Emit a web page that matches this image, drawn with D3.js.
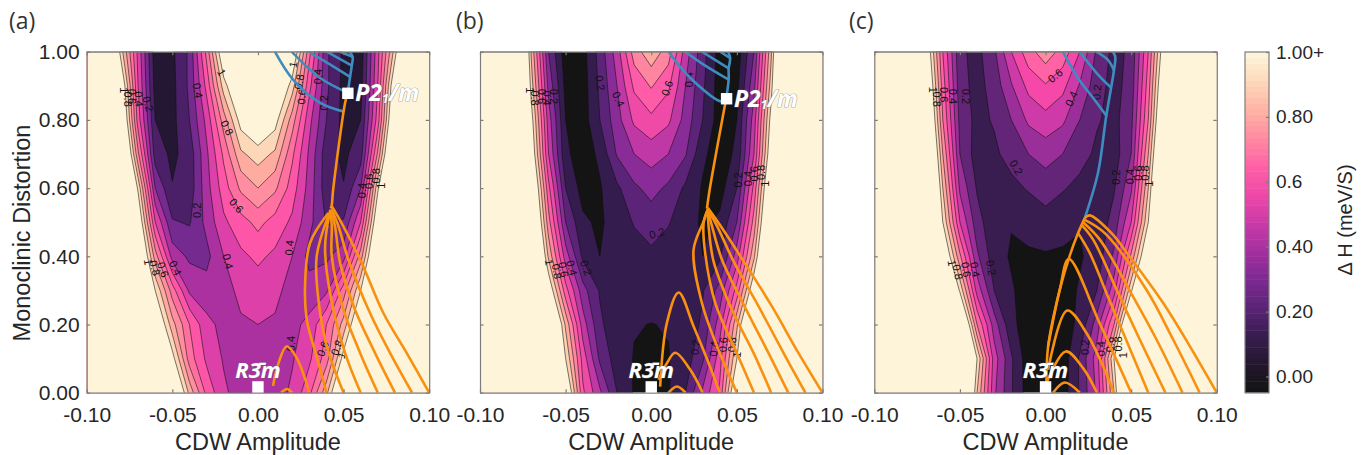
<!DOCTYPE html>
<html lang="en">
<head>
    <meta charset="UTF-8">
    <title>CDW contour maps</title>
    <style>
        html, body { margin: 0; padding: 0; background: #fff; }
        svg { display: block; }
        .axis text { font-family: "Liberation Sans", sans-serif; font-size: 21px; fill: #262626; }
        .axis path, .axis line { stroke: #7d7d7d; stroke-width: 1.2px; }
        .bar text { font-size: 19px; }
        .title { font-family: "Liberation Sans", sans-serif; font-size: 23.5px; fill: #262626; }
        .tag { font-family: "Open Sans", sans-serif; font-size: 23px; fill: #333; }
        .clabel { font-family: "Liberation Sans", sans-serif; font-size: 11px; fill: #111; text-anchor: middle; dominant-baseline: central; }
        .phase { font-family: "Open Sans", sans-serif; font-weight: 700; font-style: italic; fill: #fff; stroke: #666; stroke-width: 0.6px; paint-order: stroke; }
    </style>
</head>
<body>
<svg></svg>
<script src="https://cdnjs.cloudflare.com/ajax/libs/d3/7.8.5/d3.min.js"></script>
<script>
    // grid. maps are mirror symmetric in x so only x >= 0 is kept
    var gridCols = [0, 0.01, 0.02, 0.03, 0.04, 0.05, 0.06, 0.07, 0.08, 0.09, 0.10];
    var gridRows = [1.0, 0.9, 0.8, 0.7, 0.6, 0.5, 0.4, 0.3, 0.2, 0.1, 0.0];
    var levels = [0.1, 0.2, 0.3, 0.4, 0.5, 0.6, 0.7, 0.8, 0.9, 1.0];

    var gridA = [
        [1.40, 1.30, 1.15, 0.63, 0.22, 0.08, 0.04, 0.47, 0.95, 1.60, 2.40],
        [1.30, 1.20, 0.95, 0.53, 0.22, 0.07, 0.06, 0.50, 1.15, 1.75, 2.50],
        [1.15, 1.05, 0.75, 0.43, 0.20, 0.07, 0.10, 0.55, 1.25, 1.90, 2.70],
        [0.95, 0.88, 0.62, 0.38, 0.14, 0.08, 0.15, 0.72, 1.40, 2.00, 2.80],
        [0.80, 0.72, 0.55, 0.36, 0.14, 0.105, 0.30, 0.98, 1.50, 2.10, 2.90],
        [0.63, 0.56, 0.48, 0.33, 0.19, 0.21, 0.50, 1.15, 1.70, 2.30, 3.00],
        [0.52, 0.48, 0.40, 0.27, 0.28, 0.36, 0.75, 1.30, 1.90, 2.50, 3.20],
        [0.45, 0.42, 0.37, 0.34, 0.38, 0.65, 1.00, 1.60, 2.20, 2.80, 3.40],
        [0.40, 0.39, 0.37, 0.43, 0.60, 0.84, 1.20, 1.90, 2.50, 3.10, 3.70],
        [0.36, 0.35, 0.39, 0.48, 0.65, 1.05, 1.50, 2.10, 2.70, 3.30, 3.90],
        [0.34, 0.35, 0.42, 0.57, 0.87, 1.30, 1.80, 2.30, 2.90, 3.50, 4.10]
    ];
    var gridB = [
        [0.87, 0.75, 0.45, 0.24, 0.06, 0.04, 0.30, 0.88, 1.70, 2.50, 3.30],
        [0.71, 0.62, 0.40, 0.22, 0.05, 0.07, 0.37, 0.95, 1.75, 2.55, 3.35],
        [0.575, 0.52, 0.36, 0.20, 0.05, 0.10, 0.45, 1.05, 1.80, 2.60, 3.40],
        [0.445, 0.40, 0.31, 0.12, 0.05, 0.12, 0.50, 1.12, 1.90, 2.70, 3.50],
        [0.335, 0.28, 0.18, 0.09, 0.06, 0.20, 0.63, 1.25, 2.00, 2.80, 3.60],
        [0.245, 0.205, 0.16, 0.08, 0.12, 0.30, 0.74, 1.35, 2.10, 2.90, 3.70],
        [0.18, 0.17, 0.145, 0.10, 0.18, 0.45, 0.88, 1.50, 2.20, 3.00, 3.80],
        [0.14, 0.14, 0.15, 0.19, 0.34, 0.64, 1.12, 1.80, 2.50, 3.20, 4.00],
        [0.098, 0.105, 0.13, 0.22, 0.45, 0.88, 1.40, 2.00, 2.70, 3.40, 4.10],
        [0.07, 0.095, 0.15, 0.28, 0.56, 1.00, 1.60, 2.30, 3.00, 3.70, 4.40],
        [0.06, 0.09, 0.20, 0.42, 0.62, 1.20, 1.90, 2.60, 3.30, 4.00, 4.70]
    ];
    var gridC = [
        [0.76, 0.66, 0.50, 0.28, 0.17, 0.22, 0.60, 1.15, 1.90, 2.70, 3.50],
        [0.59, 0.53, 0.39, 0.24, 0.165, 0.24, 0.65, 1.25, 2.00, 2.80, 3.60],
        [0.465, 0.42, 0.30, 0.21, 0.17, 0.27, 0.70, 1.35, 2.10, 2.90, 3.70],
        [0.34, 0.30, 0.24, 0.18, 0.15, 0.30, 0.80, 1.45, 2.20, 3.00, 3.80],
        [0.245, 0.21, 0.17, 0.14, 0.19, 0.38, 0.90, 1.55, 2.30, 3.10, 3.90],
        [0.16, 0.125, 0.105, 0.13, 0.24, 0.50, 1.00, 1.65, 2.40, 3.20, 4.00],
        [0.09, 0.09, 0.09, 0.14, 0.32, 0.72, 1.20, 1.85, 2.60, 3.40, 4.20],
        [0.06, 0.06, 0.11, 0.20, 0.46, 0.98, 1.50, 2.10, 2.80, 3.60, 4.40],
        [0.04, 0.05, 0.125, 0.35, 0.70, 1.35, 1.90, 2.50, 3.20, 4.00, 4.80],
        [0.03, 0.04, 0.215, 0.45, 1.00, 1.60, 2.20, 2.90, 3.60, 4.40, 5.20],
        [0.02, 0.05, 0.21, 0.42, 0.90, 1.60, 2.30, 3.00, 3.70, 4.50, 5.30]
    ];

    // band colours, lowest band first, cream is everything above 1
    var bandsA = ["#241733", "#4b2068", "#752a8f", "#ab30a0", "#dd40a8", "#fd56a8", "#ff70a0", "#ff8fa0", "#ffaca0", "#fdd8b8", "#fdf4da"];
    var bandsB = ["#141414", "#351c4e", "#5c2478", "#8a2c98", "#c038a5", "#f04aa8", "#fe5ca8", "#ff85a0", "#ffa8a0", "#fdd0b0", "#fdf4da"];
    var bandsC = ["#141414", "#391d50", "#632578", "#9a2f9a", "#ce3aa8", "#f548a8", "#ff62a5", "#ff8ba0", "#ffaea0", "#fdd8b8", "#fdf4da"];
    var barColors = ["#141414", "#25172f", "#3a1d52", "#5c2478", "#7f2a92", "#a530a0", "#cb3aa8", "#ef48a8", "#fe60a6", "#ff8aa0", "#ffb2a4", "#fed6b8", "#fdf4da"];
    var barStripes = 60;

    var xTicks = [-0.10, -0.05, 0, 0.05, 0.10];
    var xTickLabels = ["-0.10", "-0.05", "0.00", "0.05", "0.10"];
    var yTicks = [0, 0.2, 0.4, 0.6, 0.8, 1.0];
    var yTickLabels = ["0.00", "0.20", "0.40", "0.60", "0.80", "1.00"];
    var barTicks = [0, 0.2, 0.4, 0.6, 0.8, 1.0];
    var barTickLabels = ["0.00", "0.20", "0.40", "0.6", "0.80", "1.00+"];

    // orange paths, each runs from the fork or start down to y = 0
    var orangeA = [
        [[0.0135, 0], [0.017, 0.011], [0.02, 0]],
        [[0.0088, 0.02], [0.0117, 0.082], [0.0168, 0.136], [0.0226, 0.102], [0.03, 0]],
        [[0.0411, 0.527], [0.0304, 0.439], [0.0275, 0.312], [0.0285, 0.214], [0.0343, 0.106], [0.04, 0]],
        [[0.0417, 0.527], [0.0343, 0.40], [0.0353, 0.273], [0.0402, 0.136], [0.05, 0]],
        [[0.0421, 0.532], [0.0392, 0.429], [0.0421, 0.292], [0.0509, 0.116], [0.06, 0]],
        [[0.0421, 0.537], [0.0431, 0.488], [0.0431, 0.40], [0.05, 0.243], [0.0597, 0.116], [0.07, 0]],
        [[0.0425, 0.537], [0.045, 0.488], [0.048, 0.38], [0.0567, 0.243], [0.0684, 0.116], [0.08, 0]],
        [[0.0431, 0.537], [0.047, 0.488], [0.0528, 0.39], [0.0655, 0.233], [0.0772, 0.116], [0.09, 0]],
        [[0.0431, 0.547], [0.0499, 0.488], [0.0606, 0.38], [0.0733, 0.233], [0.0869, 0.116], [0.10, 0]],
        [[0.0425, 0.54], [0.0431, 0.55], [0.0439, 0.595], [0.0509, 0.85], [0.0524, 0.879]]
    ];
    var orangeB = [
        [[0.0101, 0], [0.015, 0.018], [0.02, 0]],
        [[0.0043, 0.038], [0.0092, 0.087], [0.014, 0.117], [0.0228, 0.067], [0.03, 0]],
        [[0.0052, 0.018], [0.0091, 0.204], [0.016, 0.294], [0.0247, 0.195], [0.0335, 0.087], [0.04, 0]],
        [[0.033, 0.537], [0.0306, 0.503], [0.0247, 0.419], [0.0296, 0.263], [0.0384, 0.136], [0.05, 0]],
        [[0.033, 0.537], [0.0306, 0.498], [0.0315, 0.409], [0.0374, 0.263], [0.05, 0.116], [0.06, 0]],
        [[0.033, 0.537], [0.0335, 0.488], [0.0364, 0.385], [0.0471, 0.243], [0.0598, 0.116], [0.07, 0]],
        [[0.033, 0.537], [0.0355, 0.488], [0.0413, 0.39], [0.055, 0.248], [0.0685, 0.116], [0.08, 0]],
        [[0.033, 0.537], [0.0385, 0.488], [0.0481, 0.385], [0.0627, 0.253], [0.0773, 0.116], [0.09, 0]],
        [[0.033, 0.542], [0.0413, 0.483], [0.0559, 0.37], [0.0705, 0.253], [0.086, 0.116], [0.10, 0]],
        [[0.0325, 0.54], [0.0341, 0.595], [0.0438, 0.864]]
    ];
    var orangeC = [
        [[0.0044, 0], [0.0112, 0.03], [0.02, 0]],
        [[0.0009, 0.033], [0.0118, 0.121], [0.0219, 0.072], [0.03, 0]],
        [[0.0015, 0.067], [0.0126, 0.241], [0.0239, 0.175], [0.04, 0]],
        [[0.0015, 0.136], [0.0083, 0.302], [0.0136, 0.392], [0.0316, 0.204], [0.05, 0]],
        [[0.019, 0.468], [0.0258, 0.41], [0.0356, 0.292], [0.047, 0.156], [0.06, 0]],
        [[0.0209, 0.493], [0.0278, 0.449], [0.0424, 0.292], [0.055, 0.156], [0.07, 0]],
        [[0.0219, 0.5], [0.0317, 0.449], [0.0511, 0.282], [0.0648, 0.156], [0.08, 0]],
        [[0.0229, 0.507], [0.0346, 0.468], [0.0589, 0.302], [0.0745, 0.156], [0.09, 0]],
        [[0.0229, 0.512], [0.0258, 0.52], [0.0385, 0.468], [0.049, 0.40], [0.0687, 0.263], [0.0843, 0.136], [0.10, 0]],
        [[0.0005, 0.02], [0.0015, 0.136], [0.0083, 0.302], [0.014, 0.40], [0.019, 0.468], [0.0229, 0.512]]
    ];

    var blueA = [
        [[0.0099, 1], [0.0205, 0.918], [0.0363, 0.85], [0.0497, 0.825]],
        [[0.0197, 1], [0.0363, 0.923], [0.0526, 0.879]],
        [[0.0295, 1], [0.0439, 0.957], [0.0538, 0.926]],
        [[0.0402, 1], [0.0548, 0.959]],
        [[0.048, 1], [0.0553, 0.985]],
        [[0.0524, 0.879], [0.0538, 0.926], [0.0548, 0.959], [0.0553, 0.985], [0.0535, 1]]
    ];
    var blueB = [
        [[0.0101, 1], [0.0228, 0.923], [0.0413, 0.854], [0.0438, 0.864]],
        [[0.0199, 1], [0.0306, 0.962], [0.0452, 0.918]],
        [[0.0296, 1], [0.0452, 0.951]],
        [[0.0403, 1], [0.0461, 0.981]],
        [[0.0438, 0.864], [0.0452, 0.918], [0.0452, 0.951], [0.0461, 0.981], [0.0448, 1]]
    ];
    var blueC = [
        [[0.0101, 1], [0.0189, 0.923], [0.0286, 0.859], [0.0358, 0.81]],
        [[0.0199, 1], [0.0306, 0.933], [0.0384, 0.894]],
        [[0.0296, 1], [0.0364, 0.976], [0.04, 0.945]],
        [[0.0229, 0.512], [0.0306, 0.644], [0.0354, 0.81], [0.0384, 0.898], [0.04, 0.947], [0.0407, 0.985], [0.0393, 1]]
    ];

    // contour labels: text, x, y, rotation
    var labelsA = [
        ["1", -0.0212, 0.939, 60], ["0.4", -0.035, 0.886, 80], ["0.8", -0.018, 0.777, 65], ["0.6", -0.0125, 0.549, 50],
        ["0.2", -0.0358, 0.535, -90], ["0.4", -0.0175, 0.385, 75], ["0.4", 0.0182, 0.425, -85], ["0.4", 0.0193, 0.144, -90],
        ["0.6", 0.0378, 0.129, -70], ["0.8", 0.046, 0.132, -70], ["1", 0.0488, 0.11, -70],
        ["1", 0.0205, 0.962, -80], ["0.8", 0.024, 0.912, -80], ["0.6", 0.0255, 0.868, -85], ["0.4", 0.0351, 0.927, -90], ["0.2", 0.0386, 0.85, -90],
        ["1", -0.0784, 0.887, 90], ["0.8", -0.0758, 0.861, 90], ["0.6", -0.0733, 0.869, 90], ["0.4", -0.0694, 0.861, 85], ["0.2", -0.0641, 0.847, 75],
        ["0.4", 0.0606, 0.593, -90], ["0.6", 0.0651, 0.62, -90], ["0.8", 0.069, 0.636, -90], ["1", 0.0719, 0.607, -90],
        ["1", -0.0641, 0.383, 80], ["0.8", -0.0602, 0.366, 75], ["0.6", -0.0554, 0.361, 70], ["0.4", -0.0481, 0.366, 65]
    ];
    var labelsB = [
        ["0.2", -0.0298, 0.908, 80], ["0.4", -0.0191, 0.861, 65], ["0.6", 0.0092, 0.893, -70], ["0.4", 0.0218, 0.918, -90], ["0.2", 0.0033, 0.468, -15],
        ["1", -0.0707, 0.887, 90], ["0.8", -0.0678, 0.864, 90], ["0.6", -0.0639, 0.869, 90], ["0.4", -0.0609, 0.864, 90], ["0.2", -0.0565, 0.869, 90],
        ["0.2", 0.0506, 0.624, -90], ["0.4", 0.0565, 0.628, -90], ["0.6", 0.0602, 0.642, -90], ["0.8", 0.0641, 0.646, -90], ["1", 0.0666, 0.613, -90],
        ["1", -0.0596, 0.382, 80], ["0.8", -0.0551, 0.356, 80], ["0.6", -0.0512, 0.361, 80], ["0.4", -0.0463, 0.366, 75], ["0.2", -0.038, 0.366, 70],
        ["0.2", 0.0257, 0.133, -85], ["0.4", 0.0364, 0.129, -85], ["0.6", 0.0419, 0.141, -85], ["0.8", 0.0471, 0.141, -85], ["1", 0.05, 0.112, -85]
    ];
    var labelsC = [
        ["0.6", 0.0056, 0.93, -40], ["0.4", 0.015, 0.862, -65], ["0.2", 0.03, 0.881, -85], ["0.2", -0.0171, 0.661, 60],
        ["1", -0.0658, 0.888, 90], ["0.8", -0.0633, 0.861, 90], ["0.6", -0.0594, 0.874, 90], ["0.4", -0.0541, 0.869, 90], ["0.2", -0.0463, 0.869, 90],
        ["0.2", 0.0413, 0.632, -90], ["0.4", 0.0491, 0.634, -90], ["0.6", 0.0539, 0.644, -90], ["0.8", 0.0582, 0.644, -90], ["1", 0.0607, 0.613, -90],
        ["1", -0.0547, 0.38, 80], ["0.8", -0.0512, 0.354, 80], ["0.6", -0.0463, 0.361, 80], ["0.4", -0.0411, 0.361, 80], ["0.2", -0.0317, 0.366, 80],
        ["0.2", 0.0228, 0.133, -90], ["0.4", 0.0321, 0.129, -90], ["0.6", 0.0374, 0.141, -90], ["0.8", 0.0423, 0.143, -90], ["1", 0.0452, 0.11, -90]
    ];

    var width = 1365;
    var height = 455;
    var plotTop = 51.7;
    var plotBottom = 392.7;
    var plotWidth = 342.5;

    var svg = d3.select("svg").attr("width", width).attr("height", height);

    var yScale = d3.scaleLinear().domain([0, 1]).range([plotBottom, plotTop]);

    // spread the half grid over both sides and repeat the edges so the fills run past the frame
    function fullGrid(grid) {
        var rows = grid.map(function (row) {
            var left = row.slice(1).reverse();
            var full = left.concat(row);
            return [full[0]].concat(full, [full[full.length - 1]]);
        });
        rows = [rows[0]].concat(rows, [rows[rows.length - 1]]);
        return rows;
    }

    function drawPanel(id, left, grid, bands, blue, orange, labels, showY) {
        var xScale = d3.scaleLinear().domain([-0.1, 0.1]).range([left, left + plotWidth]);
        var g = svg.append("g");

        g.append("clipPath").attr("id", "clip" + id).append("rect")
            .attr("x", left).attr("y", plotTop)
            .attr("width", plotWidth).attr("height", plotBottom - plotTop);

        var plot = g.append("g").attr("clip-path", "url(#clip" + id + ")");

        plot.append("rect")
            .attr("x", left).attr("y", plotTop)
            .attr("width", plotWidth).attr("height", plotBottom - plotTop)
            .style("fill", bands[0]);

        var rows = fullGrid(grid);
        var nx = rows[0].length;
        var ny = rows.length;
        var contours = d3.contours().size([nx, ny]).thresholds(levels)(d3.merge(rows));

        // contour coords have cell i centred on i + 0.5, first and last cells are the padding
        var colX = d3.scaleLinear().domain([1.5, nx - 1.5]).range([-gridCols[gridCols.length - 1], gridCols[gridCols.length - 1]]);
        var rowY = d3.scaleLinear().domain([1.5, ny - 1.5]).range([gridRows[0], gridRows[gridRows.length - 1]]);
        var path = d3.geoPath(d3.geoTransform({
            point: function (x, y) {
                this.stream.point(xScale(colX(x)), yScale(rowY(y)));
            }
        }));

        plot.selectAll("path.band")
            .data(contours)
            .enter().append("path")
            .attr("class", "band")
            .attr("d", path)
            .style("fill", function (d, i) { return bands[i + 1]; })
            .style("stroke", "#111")
            .style("stroke-opacity", 0.8)
            .style("stroke-width", 0.7);

        plot.selectAll("text.clabel")
            .data(labels)
            .enter().append("text")
            .attr("class", "clabel")
            .attr("transform", function (d) {
                return "translate(" + xScale(d[1]) + "," + yScale(d[2]) + ") rotate(" + d[3] + ")";
            })
            .text(function (d) { return d[0]; });

        var line = d3.line()
            .x(function (d) { return xScale(d[0]); })
            .y(function (d) { return yScale(d[1]); })
            .curve(d3.curveCatmullRom.alpha(0.5));

        plot.selectAll("path.blue")
            .data(blue)
            .enter().append("path")
            .attr("class", "blue")
            .attr("d", line)
            .style("fill", "none")
            .style("stroke", "#3f8cc0")
            .style("stroke-width", 2.6);

        plot.selectAll("path.orange")
            .data(orange)
            .enter().append("path")
            .attr("class", "orange")
            .attr("d", line)
            .style("fill", "none")
            .style("stroke", "#f8910f")
            .style("stroke-width", 2.6);

        // frame and ticks on all four sides, numbers only at the bottom and the first left
        g.append("g").attr("class", "axis")
            .attr("transform", "translate(0," + plotBottom + ")")
            .call(d3.axisBottom(xScale).tickValues(xTicks).tickSizeInner(-3.5).tickSizeOuter(0).tickPadding(14)
                .tickFormat(function (d, i) { return xTickLabels[i]; }));
        g.append("g").attr("class", "axis")
            .attr("transform", "translate(0," + plotTop + ")")
            .call(d3.axisTop(xScale).tickValues(xTicks).tickSizeInner(-3.5).tickSizeOuter(0).tickFormat(""));
        g.append("g").attr("class", "axis")
            .attr("transform", "translate(" + left + ",0)")
            .call(d3.axisLeft(yScale).tickValues(yTicks).tickSizeInner(-3.5).tickSizeOuter(0).tickPadding(7)
                .tickFormat(function (d, i) { return showY ? yTickLabels[i] : ""; }));
        g.append("g").attr("class", "axis")
            .attr("transform", "translate(" + (left + plotWidth) + ",0)")
            .call(d3.axisRight(yScale).tickValues(yTicks).tickSizeInner(-3.5).tickSizeOuter(0).tickFormat(""));

        g.append("text").attr("class", "title")
            .attr("x", left + plotWidth / 2).attr("y", 450)
            .attr("text-anchor", "middle")
            .text("CDW Amplitude");

        return xScale;
    }

    var xA = drawPanel("A", 86.7, gridA, bandsA, blueA, orangeA, labelsA, true);
    var xB = drawPanel("B", 480, gridB, bandsB, blueB, orangeB, labelsB, false);
    var xC = drawPanel("C", 874.3, gridC, bandsC, blueC, orangeC, labelsC, false);

    function marker(xs, x, y) {
        svg.append("rect")
            .attr("x", xs(x) - 5.7).attr("y", yScale(y) - 5.7)
            .attr("width", 11.4).attr("height", 11.4)
            .style("fill", "#fff");
    }

    function r3m(xs) {
        marker(xs, 0, 0.017);
        svg.append("text").attr("class", "phase")
            .attr("x", xs(0)).attr("y", 378)
            .attr("text-anchor", "middle")
            .style("font-size", "22px")
            .text("R3\u0304m");
    }

    function p21m(xs, x, y, dy) {
        marker(xs, x, y);
        var t = svg.append("text").attr("class", "phase")
            .attr("x", xs(x) + 7.5).attr("y", yScale(y) + dy)
            .style("font-size", "23px");
        t.append("tspan").text("P2");
        t.append("tspan").style("font-size", "12px").attr("dy", 2).text("1");
        t.append("tspan").attr("dy", -2).text("/m");
    }

    r3m(xA);
    r3m(xB);
    r3m(xC);
    p21m(xA, 0.0525, 0.878, 8);
    p21m(xB, 0.044, 0.862, 8);

    svg.append("text").attr("class", "tag").attr("x", 9).attr("y", 29).text("(a)");
    svg.append("text").attr("class", "tag").attr("x", 456).attr("y", 29).text("(b)");
    svg.append("text").attr("class", "tag").attr("x", 849).attr("y", 29).text("(c)");

    svg.append("text").attr("class", "title")
        .attr("transform", "translate(30,233) rotate(-90)")
        .attr("text-anchor", "middle")
        .text("Monoclinic Distortion");

    // colorbar
    var barLeft = 1245;
    var barWidth = 24;
    var barScale = d3.scaleLinear().domain([-0.05, 1]).range([plotBottom, 52]);
    var barColor = d3.piecewise(d3.interpolateRgb, barColors);
    var barStep = 1.05 / barStripes;

    svg.selectAll("rect.stripe")
        .data(d3.range(barStripes))
        .enter().append("rect")
        .attr("class", "stripe")
        .attr("x", barLeft)
        .attr("y", function (d) { return barScale(-0.05 + (d + 1) * barStep); })
        .attr("width", barWidth)
        .attr("height", function () { return barScale(0) - barScale(barStep) + 0.5; })
        .style("fill", function (d) { return barColor(d / (barStripes - 1)); });

    svg.append("rect")
        .attr("x", barLeft).attr("y", barScale(1))
        .attr("width", barWidth).attr("height", plotBottom - barScale(1))
        .style("fill", "none").style("stroke", "#7d7d7d").style("stroke-width", 1.2);

    svg.append("g").attr("class", "axis bar")
        .attr("transform", "translate(" + (barLeft + barWidth) + ",0)")
        .call(d3.axisRight(barScale).tickValues(barTicks).tickSizeInner(-3).tickSizeOuter(0).tickPadding(7)
            .tickFormat(function (d, i) { return barTickLabels[i]; }))
        .select(".domain").remove();

    svg.append("text").attr("class", "title")
        .style("font-size", "20px")
        .attr("transform", "translate(1352,220) rotate(-90)")
        .attr("text-anchor", "middle")
        .text("\u0394 H (meV/S)");
</script>
</body>
</html>
